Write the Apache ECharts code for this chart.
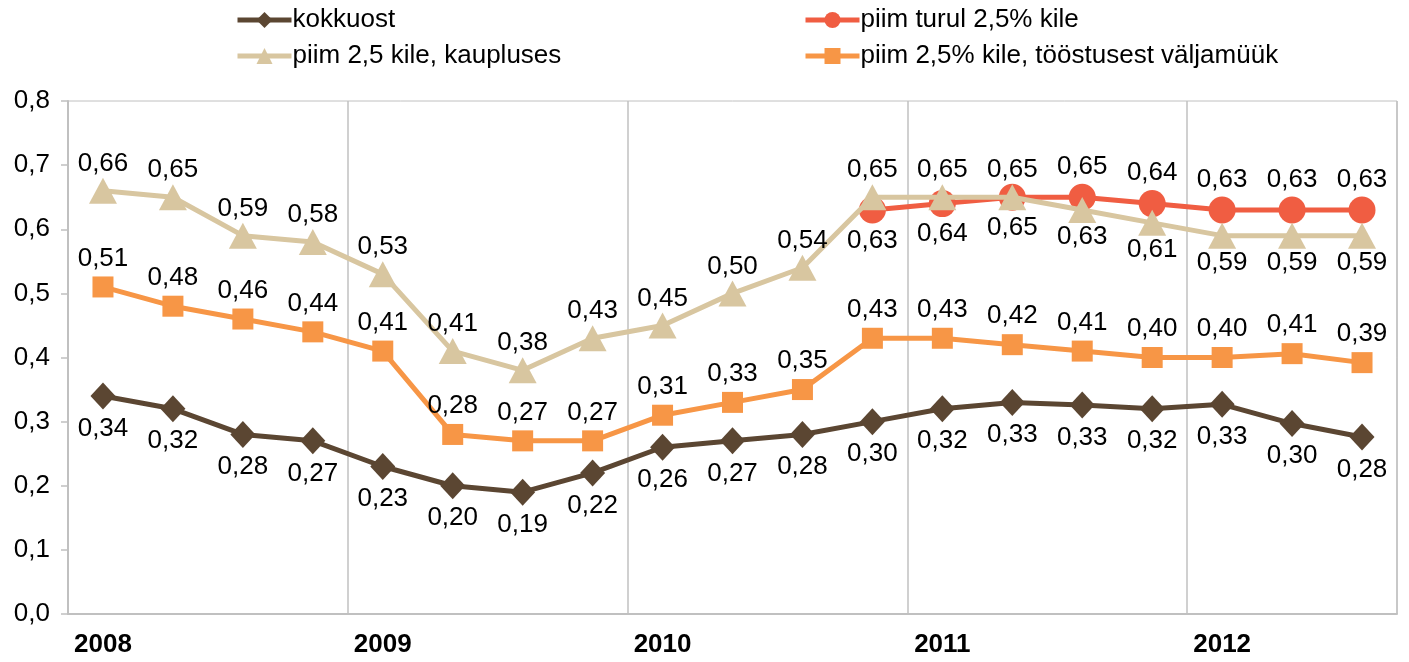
<!DOCTYPE html>
<html>
<head>
<meta charset="utf-8">
<script src="https://cdn.jsdelivr.net/npm/echarts@6/dist/echarts.min.js"></script>
<style>
  html, body { margin: 0; padding: 0; background: #fff; }
  #chart { width: 1409px; height: 662px; }
</style>
</head>
<body>
<div id="chart"></div>
<script>
// quarters, year label only on the first quarter
var categories = ['2008', '', '', '', '2009', '', '', '', '2010', '', '', '', '2011', '', '', '', '2012', '', ''];

var kokkuost = [0.34, 0.32, 0.28, 0.27, 0.23, 0.20, 0.19, 0.22, 0.26, 0.27, 0.28, 0.30, 0.32, 0.33, 0.326, 0.32, 0.327, 0.297, 0.276];
var turul = [null, null, null, null, null, null, null, null, null, null, null, 0.63, 0.64, 0.65, 0.65, 0.64, 0.63, 0.63, 0.63];
var kaupluses = [0.66, 0.65, 0.59, 0.58, 0.53, 0.41, 0.38, 0.43, 0.45, 0.50, 0.54, 0.65, 0.65, 0.65, 0.63, 0.61, 0.59, 0.59, 0.59];
var toostus = [0.51, 0.48, 0.46, 0.44, 0.41, 0.28, 0.27, 0.27, 0.31, 0.33, 0.35, 0.43, 0.43, 0.42, 0.41, 0.40, 0.40, 0.406, 0.392];

var FONT = 'Liberation Sans, Arial, sans-serif';
var FS = 26;

function fmt(v) {
  return v.toFixed(2).replace('.', ',');
}

// label above or below, per point
function withLabels(arr, above, dist) {
  return arr.map(function (v, i) {
    if (v == null) return null;
    return {
      value: v,
      label: { position: above(i) ? 'top' : 'bottom', distance: dist }
    };
  });
}

var labelStyle = {
  show: true,
  color: '#000',
  fontFamily: FONT,
  fontSize: FS,
  formatter: function (p) { return fmt(p.value); }
};

var mychart = echarts.init(document.getElementById('chart'));

var legendBase = {
  orient: 'vertical',
  top: 2,
  itemWidth: 54,
  itemHeight: 20,
  itemGap: 10,
  lineStyle: { width: 5 },
  textStyle: { fontSize: FS, color: '#000', fontFamily: FONT, padding: [0, 0, 0, -4] }
};

var option = {
  animation: false,
  textStyle: { fontFamily: FONT },
  legend: [
    Object.assign({}, legendBase, { left: 230, data: ['kokkuost', 'piim 2,5 kile, kaupluses'] }),
    Object.assign({}, legendBase, { left: 798, data: ['piim turul 2,5% kile', 'piim 2,5% kile, tööstusest väljamüük'] })
  ],
  grid: {
    left: 68,
    right: 12,
    top: 101,
    bottom: 48,
    show: true,
    borderColor: '#c0c0c0',
    borderWidth: 1
  },
  xAxis: {
    type: 'category',
    data: categories,
    boundaryGap: true,
    axisLine: { lineStyle: { color: '#c0c0c0', width: 2 } },
    axisTick: { show: false },
    axisLabel: {
      interval: 0,
      margin: 18,
      color: '#000',
      fontFamily: FONT,
      fontSize: FS,
      fontWeight: 'bold'
    },
    splitLine: {
      show: true,
      interval: function (i) { return i % 4 === 0 && i < 17; },
      lineStyle: { color: '#c0c0c0', width: 1.5 }
    }
  },
  yAxis: {
    type: 'value',
    min: 0,
    max: 0.8,
    interval: 0.1,
    axisLine: { show: true, lineStyle: { color: '#c0c0c0', width: 2 } },
    axisTick: { show: true, length: 7, lineStyle: { color: '#c0c0c0', width: 1.5 } },
    splitLine: { show: false },
    axisLabel: {
      margin: 18,
      color: '#000',
      fontFamily: FONT,
      fontSize: FS,
      formatter: function (v) { return v.toFixed(1).replace('.', ','); }
    }
  },
  series: [
    {
      name: 'kokkuost',
      type: 'line',
      data: withLabels(kokkuost, function () { return false; }, 6),
      color: '#5b4632',
      lineStyle: { width: 5, color: '#5b4632' },
      symbol: 'diamond',
      symbolSize: [25, 27],
      itemStyle: { color: '#5b4632' },
      label: labelStyle,
      z: 2
    },
    {
      name: 'piim turul 2,5% kile',
      type: 'line',
      data: withLabels(turul, function (i) { return i > 13; }, 4),
      color: '#f05d42',
      lineStyle: { width: 5, color: '#f05d42' },
      symbol: 'circle',
      symbolSize: 27,
      itemStyle: { color: '#f05d42' },
      label: labelStyle,
      z: 3
    },
    {
      name: 'piim 2,5 kile, kaupluses',
      type: 'line',
      data: withLabels(kaupluses, function (i) { return i < 14; }, 1),
      color: '#d8c6a0',
      lineStyle: { width: 5, color: '#d8c6a0' },
      symbol: 'triangle',
      symbolSize: [28, 26],
      itemStyle: { color: '#d8c6a0' },
      label: labelStyle,
      z: 4
    },
    {
      name: 'piim 2,5% kile, tööstusest väljamüük',
      type: 'line',
      data: withLabels(toostus, function () { return true; }, 5),
      color: '#f79646',
      lineStyle: { width: 5, color: '#f79646' },
      symbol: 'rect',
      symbolSize: 21,
      itemStyle: { color: '#f79646' },
      label: labelStyle,
      z: 5
    }
  ]
};

mychart.setOption(option);
</script>
</body>
</html>
